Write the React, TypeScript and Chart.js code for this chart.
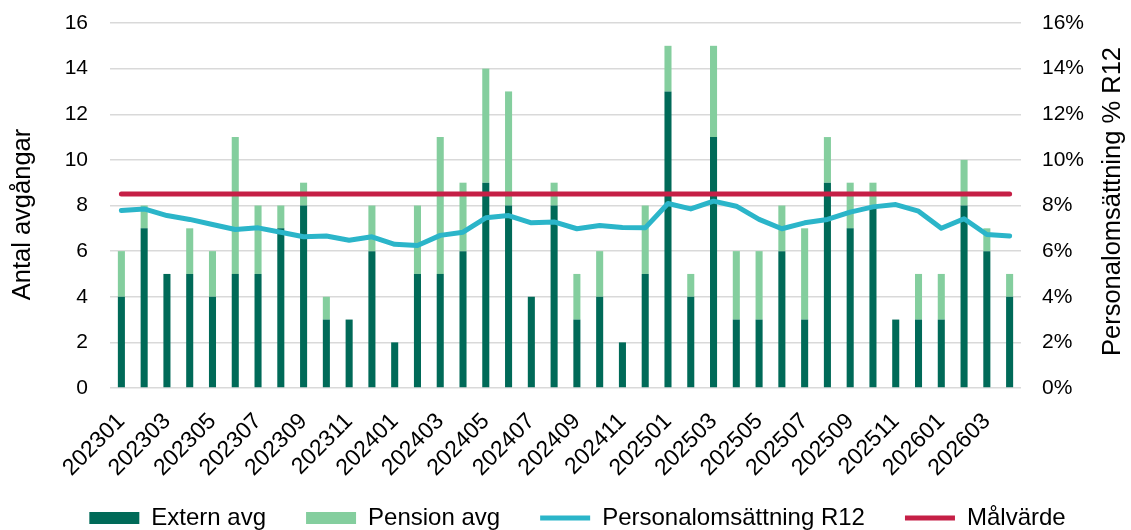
import { useEffect, useRef } from 'react';
import { Chart, registerables } from 'chart.js';

Chart.register(...registerables);

const months = [
  '202301', '202302', '202303', '202304', '202305', '202306', '202307', '202308', '202309', '202310', '202311', '202312',
  '202401', '202402', '202403', '202404', '202405', '202406', '202407', '202408', '202409', '202410', '202411', '202412',
  '202501', '202502', '202503', '202504', '202505', '202506', '202507', '202508', '202509', '202510', '202511', '202512',
  '202601', '202602', '202603', '202604',
];

const externAvg = [4, 7, 5, 5, 4, 5, 5, 7, 8, 3, 3, 6, 2, 5, 5, 6, 9, 8, 4, 8, 3, 4, 2, 5, 13, 4, 11, 3, 3, 6, 3, 9, 7, 8, 3, 3, 3, 8, 6, 4];
const pensionAvg = [2, 1, 0, 2, 2, 6, 3, 1, 1, 1, 0, 2, 0, 3, 6, 3, 5, 5, 0, 1, 2, 2, 0, 3, 2, 1, 4, 3, 3, 2, 4, 2, 2, 1, 0, 2, 2, 2, 1, 1];
const turnoverR12 = [
  7.78, 7.85, 7.56, 7.39, 7.17, 6.95, 7.02, 6.83, 6.63, 6.66, 6.48, 6.63, 6.3, 6.25, 6.69, 6.83, 7.46, 7.56, 7.24, 7.28,
  6.98, 7.12, 7.04, 7.02, 8.09, 7.85, 8.19, 7.97, 7.39, 6.98, 7.24, 7.39, 7.71, 7.94, 8.04, 7.75, 7.0, 7.42, 6.73, 6.66,
];
const targetValue = [
  8.5, 8.5, 8.5, 8.5, 8.5, 8.5, 8.5, 8.5, 8.5, 8.5, 8.5, 8.5, 8.5, 8.5, 8.5, 8.5, 8.5, 8.5, 8.5, 8.5,
  8.5, 8.5, 8.5, 8.5, 8.5, 8.5, 8.5, 8.5, 8.5, 8.5, 8.5, 8.5, 8.5, 8.5, 8.5, 8.5, 8.5, 8.5, 8.5, 8.5,
];

const leftTicks = [0, 2, 4, 6, 8, 10, 12, 14, 16];
const leftTitle = 'Antal avgångar';
const rightTitle = 'Personalomsättning % R12';
const seriesNames = ['Extern avg', 'Pension avg', 'Personalomsättning R12', 'Målvärde'];

const FONT = '"Liberation Sans", Arial, sans-serif';

// both axis titles read bottom-to-top, as in the reference
const axisTitlePlugin = {
  id: 'axisTitles',
  afterDraw(chart: any) {
    const { ctx, chartArea } = chart;
    const mid = (chartArea.top + chartArea.bottom) / 2;
    const draw = (text: string, x: number, y: number) => {
      ctx.save();
      ctx.translate(x, y);
      ctx.rotate(-Math.PI / 2);
      ctx.font = `25.5px ${FONT}`;
      ctx.fillStyle = '#000';
      ctx.textAlign = 'center';
      ctx.textBaseline = 'middle';
      ctx.fillText(text, 0, 0);
      ctx.restore();
    };
    draw(leftTitle, 23, mid + 9);
    draw(rightTitle, chart.width - 18, mid - 4);
  },
};

// keep the legend box short while its label padding (item spacing) stays wide,
// then place it low and slightly right as in the reference
const legendHeightPlugin = {
  id: 'legendHeight',
  beforeLayout(chart: any) {
    const lg = chart.legend;
    if (lg && !lg.__patched) {
      const orig = lg.fit.bind(lg);
      lg.fit = function () {
        orig();
        this.height = 52;
      };
      lg.__patched = true;
    }
  },
  afterLayout(chart: any) {
    const lg = chart.legend;
    if (lg) {
      lg.left += 12;
      lg.right += 12;
      lg.top = chart.height - 64;
      lg.bottom = chart.height;
    }
  },
};

const fixY = (s: any) => {
  s.width = 110;
  s.paddingTop = 0;
  s.paddingBottom = 0;
};

export default function App() {
  const ref = useRef<HTMLCanvasElement>(null);

  useEffect(() => {
    if (!ref.current) return;
    Chart.defaults.font.family = FONT;
    Chart.defaults.color = '#000';
    const chart = new Chart(ref.current, {
      type: 'bar',
      data: {
        labels: months,
        datasets: [
          {
            type: 'bar',
            label: seriesNames[0],
            data: externAvg,
            backgroundColor: '#006A58',
            borderWidth: 0,
            barPercentage: 0.31,
            categoryPercentage: 1,
            stack: 's',
            yAxisID: 'y',
            order: 2,
            pointStyle: 'rect',
          } as any,
          {
            type: 'bar',
            label: seriesNames[1],
            data: pensionAvg,
            backgroundColor: '#84CE9E',
            borderWidth: 0,
            barPercentage: 0.31,
            categoryPercentage: 1,
            stack: 's',
            yAxisID: 'y',
            order: 2,
            pointStyle: 'rect',
          } as any,
          {
            type: 'line',
            label: seriesNames[2],
            data: turnoverR12,
            borderColor: '#2BB5C9',
            backgroundColor: '#2BB5C9',
            borderWidth: 5,
            borderCapStyle: 'round',
            borderJoinStyle: 'round',
            pointRadius: 0,
            pointStyle: 'line',
            tension: 0,
            yAxisID: 'y1',
            order: 1,
          } as any,
          {
            type: 'line',
            label: seriesNames[3],
            data: targetValue,
            borderColor: '#C51F46',
            backgroundColor: '#C51F46',
            borderWidth: 5,
            borderCapStyle: 'round',
            borderJoinStyle: 'round',
            pointRadius: 0,
            pointStyle: 'line',
            tension: 0,
            yAxisID: 'y1',
            order: 0,
          } as any,
        ],
      },
      options: {
        animation: false,
        responsive: true,
        maintainAspectRatio: false,
        layout: { padding: { top: 23, bottom: 0, left: 0, right: 0 } },
        plugins: {
          tooltip: { enabled: false },
          legend: {
            position: 'bottom',
            labels: {
              usePointStyle: true,
              pointStyleWidth: 50,
              boxHeight: 12,
              padding: 40,
              color: '#000',
              font: { size: 24, family: FONT },
              sort: (a: any, b: any) => a.datasetIndex - b.datasetIndex,
            },
          },
        },
        scales: {
          x: {
            stacked: true,
            grid: { display: false },
            border: { display: false },
            afterFit: (s: any) => { s.height = 90; },
            ticks: {
              autoSkip: false,
              maxRotation: 45,
              minRotation: 45,
              padding: 12,
              color: '#000',
              font: { size: 23, family: FONT },
              callback: (_v: any, i: number) => (i % 2 === 0 ? months[i] : ''),
            },
          },
          y: {
            stacked: true,
            position: 'left',
            min: 0,
            max: 16,
            afterFit: fixY,
            afterBuildTicks: (s: any) => { s.ticks = leftTicks.map((v) => ({ value: v })); },
            grid: { color: '#D9D9D9', lineWidth: 1.5, drawTicks: false },
            border: { display: false },
            ticks: { padding: 22, color: '#000', font: { size: 21, family: FONT } },
          },
          y1: {
            position: 'right',
            min: 0,
            max: 16,
            afterFit: fixY,
            afterBuildTicks: (s: any) => { s.ticks = leftTicks.map((v) => ({ value: v })); },
            grid: { display: false, drawTicks: false },
            border: { display: false },
            ticks: {
              padding: 21,
              color: '#000',
              font: { size: 21, family: FONT },
              callback: (v: any) => `${v}%`,
            },
          },
        },
      },
      plugins: [axisTitlePlugin, legendHeightPlugin],
    });
    return () => chart.destroy();
  }, []);

  return (
    <div style={{ position: 'fixed', left: 0, top: 0, width: '1131px', height: '530px', background: '#fff' }}>
      <canvas ref={ref} />
    </div>
  );
}
